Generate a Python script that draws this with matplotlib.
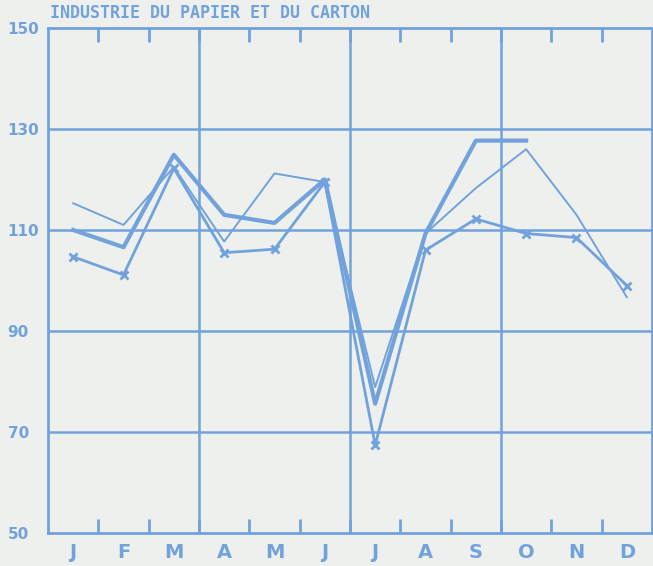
import matplotlib.pyplot as plt

# plotter-style chart: paper & board industry index, monthly
months = ["J", "F", "M", "A", "M", "J", "J", "A", "S", "O", "N", "D"]
y_ticks = [50, 70, 90, 110, 130, 150]

# thick line, stops at October
thick = [110, 106.6, 124.9, 113, 111.4, 120, 75.6, 109.3, 127.7, 127.7]
# thin line, full year
thin = [115.3, 111, 122.5, 107.7, 121.2, 119.5, 78.9, 109.3, 118.3, 126, 113, 96.7]
# line with x markers
crossed = [104.7, 101.1, 122.2, 105.5, 106.2, 119.5, 67.4, 106, 112.2, 109.3, 108.5, 99]

blue = "#72a2dc"
paper = "#eef0ed"

fig = plt.figure(figsize=(6.53, 5.66), dpi=100, facecolor=paper)
ax = fig.add_axes([48 / 653, 1 - 533 / 566, 604 / 653, 505 / 566], facecolor=paper)

ax.set_xlim(-0.5, 11.5)
ax.set_ylim(50, 150)

# grid
for yv in [70, 90, 110, 130]:
    ax.axhline(yv, color=blue, lw=1.8, zorder=1)
for xv in [2.5, 5.5, 8.5]:
    ax.axvline(xv, color=blue, lw=1.8, zorder=1)

ax.plot(range(len(thick)), thick, color=blue, lw=3.0, zorder=3)
ax.plot(range(len(thin)), thin, color=blue, lw=1.4, zorder=3)
ax.plot(range(len(crossed)), crossed, color=blue, lw=2.0, marker="x",
        ms=6, mew=2.0, zorder=3)

for s in ax.spines.values():
    s.set_color(blue)
    s.set_linewidth(2)

# ticks on month boundaries, labels centred on months
ax.set_xticks([i + 0.5 for i in range(11)])
ax.set_xticklabels([])
ax.tick_params(axis="x", which="major", direction="in", length=10, width=2,
               color=blue, top=True, bottom=True)
ax.set_xticks(range(12), minor=True)
ax.set_xticklabels(months, minor=True, fontsize=14, fontweight="bold",
                   color=blue)
ax.tick_params(axis="x", which="minor", length=0, pad=7)

ax.set_yticks(y_ticks)
ax.set_yticklabels([str(v) for v in y_ticks], fontsize=11, fontweight="bold",
                   color=blue)
ax.tick_params(axis="y", length=0, pad=29)
for t in ax.get_yticklabels():
    t.set_ha("left")

fig.text(50 / 653, 1 - 13 / 566, "INDUSTRIE DU PAPIER ET DU CARTON",
         fontsize=12, fontweight="bold", color=blue, family="DejaVu Sans Mono",
         va="center", ha="left")

fig.savefig("out.png", dpi=100, facecolor=paper)
